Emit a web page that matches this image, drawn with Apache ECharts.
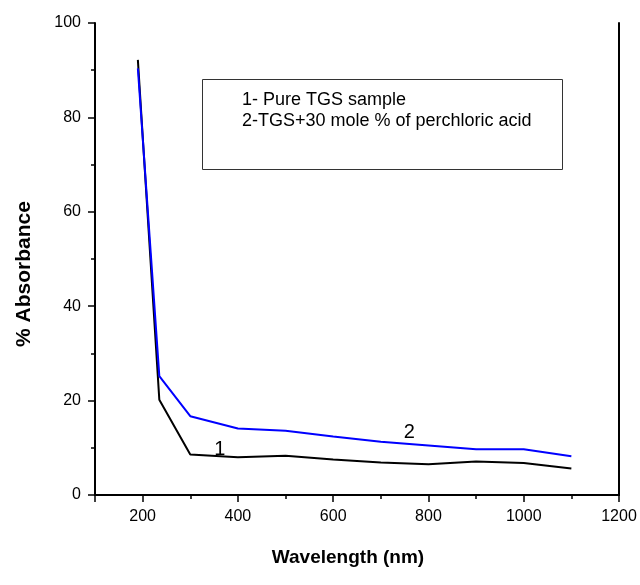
<!DOCTYPE html>
<html>
<head>
<meta charset="utf-8">
<script src="https://cdn.jsdelivr.net/npm/echarts@6/dist/echarts.min.js"></script>
<style>html,body{margin:0;padding:0;background:#fff}#c{width:640px;height:585px}</style>
</head>
<body>
<div id="c"></div>
<script>
var wavelength = [190, 235, 300, 400, 500, 600, 700, 800, 900, 1000, 1100];
var pureTGS = [92.2, 20.2, 8.6, 8.0, 8.3, 7.5, 6.9, 6.5, 7.1, 6.8, 5.6];
var tgsPerchloric = [90.4, 25.2, 16.7, 14.1, 13.6, 12.4, 11.3, 10.5, 9.7, 9.7, 8.2];
var xMajorTicks = [100, 200, 400, 600, 800, 1000, 1200];
var xTickLabels = [200, 400, 600, 800, 1000, 1200];
var xMinorTicks = [300, 500, 700, 900, 1100];
var legendLines = ['1- Pure TGS sample', '2-TGS+30 mole % of perchloric acid'];
var curveLabels = [{text: '1', x: 362, y: 9.6}, {text: '2', x: 760, y: 13.2}];
var xTitle = 'Wavelength (nm)';
var yTitle = '% Absorbance';

function pairs(xs, ys) { return xs.map(function (x, i) { return [x, ys[i]]; }); }

var FONT = '"Liberation Sans", Arial, sans-serif';
var chart = echarts.init(document.getElementById('c'), null, {renderer: 'canvas'});
var axisLine = {show: true, lineStyle: {color: '#000', width: 2}};
var option = {
  animation: false,
  backgroundColor: '#fff',
  grid: {left: 95, right: 21, top: 23, bottom: 90},
  xAxis: [{
    type: 'value', min: 100, max: 1200, interval: 100,
    axisLine: axisLine,
    axisTick: {show: true, length: 7, inside: false, customValues: xMajorTicks,
      lineStyle: {color: '#000', width: 1.5}},
    splitLine: {show: false},
    axisLabel: {fontFamily: FONT, fontSize: 16, color: '#000', margin: 14, customValues: xTickLabels,
      formatter: function (v) { return String(v); }}
  }, {
    type: 'value', min: 100, max: 1200, position: 'top',
    axisLine: axisLine, axisTick: {show: false}, axisLabel: {show: false}, splitLine: {show: false}
  }, {
    type: 'value', min: 100, max: 1200, position: 'bottom', interval: 100,
    axisLine: {show: false},
    axisTick: {show: true, length: 4, inside: false, customValues: xMinorTicks,
      lineStyle: {color: '#000', width: 1.5}},
    axisLabel: {show: false}, splitLine: {show: false}
  }],
  yAxis: [{
    type: 'value', min: 0, max: 100, interval: 20,
    axisLine: axisLine,
    axisTick: {show: true, length: 7, inside: false, lineStyle: {color: '#000', width: 1.5}},
    minorTick: {show: true, splitNumber: 2, length: 4, lineStyle: {color: '#000', width: 1.5}},
    splitLine: {show: false},
    axisLabel: {fontFamily: FONT, fontSize: 16, color: '#000', margin: 14,
      formatter: function (v) { return String(v); }}
  }, {
    type: 'value', min: 0, max: 100, position: 'right',
    axisLine: axisLine, axisTick: {show: false}, axisLabel: {show: false}, splitLine: {show: false}
  }],
  series: [{
    name: '1', type: 'line', data: pairs(wavelength, pureTGS),
    symbol: 'none', lineStyle: {color: '#000', width: 2}, z: 2
  }, {
    name: '2', type: 'line', data: pairs(wavelength, tgsPerchloric),
    symbol: 'none', lineStyle: {color: '#0000ff', width: 2}, z: 3
  }]
};
chart.setOption(option);

var g = [];
g.push({type: 'rect', shape: {x: 202.5, y: 79.5, width: 360, height: 90},
  style: {fill: '#fff', stroke: '#333', lineWidth: 1}, z: 10});
legendLines.forEach(function (t, i) {
  g.push({type: 'text', x: 242, y: 100 + i * 21, z: 11,
    style: {text: t, font: '18px ' + FONT, fill: '#000', textVerticalAlign: 'middle', textAlign: 'left'}});
});
curveLabels.forEach(function (c) {
  var p = chart.convertToPixel({xAxisIndex: 0, yAxisIndex: 0}, [c.x, c.y]);
  g.push({type: 'text', x: p[0], y: p[1], z: 11,
    style: {text: c.text, font: '20px ' + FONT, fill: '#000', textAlign: 'center', textVerticalAlign: 'middle'}});
});
g.push({type: 'text', x: 348, y: 558, z: 11,
  style: {text: xTitle, font: 'bold 19px ' + FONT, fill: '#000', textAlign: 'center', textVerticalAlign: 'middle'}});
g.push({type: 'text', x: 24, y: 274, rotation: Math.PI / 2, z: 11,
  style: {text: yTitle, font: 'bold 21px ' + FONT, fill: '#000', textAlign: 'center', textVerticalAlign: 'middle'}});
chart.setOption({graphic: g});
</script>
</body>
</html>
